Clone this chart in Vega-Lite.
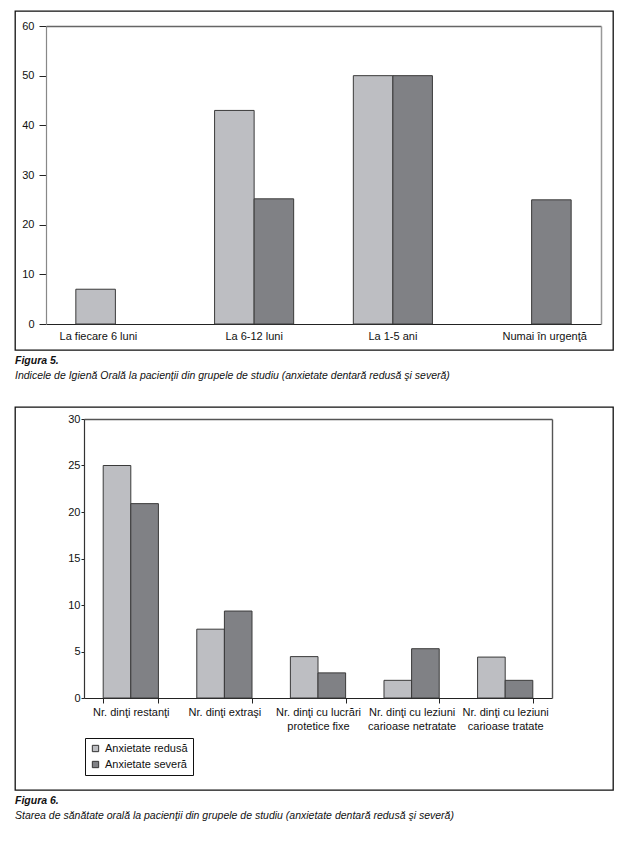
{
  "$schema": "https://vega.github.io/schema/vega-lite/v6.json",
  "padding": {"left": 14, "top": 10, "right": 5, "bottom": 5},
  "background": "white",
  "config": {
    "font": "Liberation Sans",
    "view": {"stroke": "#111", "strokeWidth": 1.3},
    "axis": {"grid": false, "title": null, "labelColor": "#111", "labelFontSize": 11, "labelFont": "Liberation Sans"},
    "title": {"orient": "bottom", "anchor": "start", "offset": 6, "fontSize": 10.5, "fontStyle": "italic", "fontWeight": "bold", "color": "#111", "subtitleFontSize": 10.5, "subtitleFontStyle": "italic", "subtitleColor": "#111", "subtitlePadding": 4, "font": "Liberation Sans", "subtitleFont": "Liberation Sans"}
  },
  "resolve": {"scale": {"x": "independent", "y": "independent", "xOffset": "independent", "color": "independent"}, "legend": {"color": "independent"}},
  "vconcat": [
    {
      "width": 598,
      "height": 339,
      "title": {"text": "Figura 5.", "subtitle": "Indicele de Igienă Orală la pacienţii din grupele de studiu (anxietate dentară redusă şi severă)"},
      "data": {"values": [
        {"cat": "La fiecare 6 luni", "grp": "Anxietate redusă", "v": 7},
        {"cat": "La 6-12 luni", "grp": "Anxietate redusă", "v": 43},
        {"cat": "La 6-12 luni", "grp": "Anxietate severă", "v": 25.2},
        {"cat": "La 1-5 ani", "grp": "Anxietate redusă", "v": 50},
        {"cat": "La 1-5 ani", "grp": "Anxietate severă", "v": 50},
        {"cat": "Numai în urgenţă", "grp": "Anxietate severă", "v": 25}
      ]},
      "layer": [
        {
          "mark": {"type": "bar", "stroke": "#3a3a3a", "strokeWidth": 1},
          "encoding": {
            "x": {"field": "cat", "type": "nominal", "sort": null,
              "scale": {"range": [31, 586], "paddingInner": 0.43, "paddingOuter": 0.215},
              "axis": {"orient": "bottom", "offset": -26, "ticks": false, "tickSize": 0, "labelPadding": 6, "labelAngle": 0, "domainColor": "#222", "domainWidth": 1.2,
                "labelOffset": {"condition": [{"test": "datum.label == 'La fiecare 6 luni'", "value": -17}, {"test": "datum.label == 'Numai în urgenţă'", "value": 13}], "value": 0}}},
            "xOffset": {"field": "grp", "type": "nominal", "scale": {"domain": ["Anxietate redusă", "Anxietate severă"], "paddingInner": 0}},
            "y": {"field": "v", "type": "quantitative",
              "scale": {"domain": [0, 60], "range": [313, 15], "nice": false},
              "axis": {"orient": "left", "offset": -31, "values": [0, 10, 20, 30, 40, 50, 60], "tickSize": 7, "tickColor": "#222", "labelPadding": 5, "domainColor": "#888", "domainWidth": 1.2}},
            "color": {"field": "grp", "type": "nominal", "scale": {"domain": ["Anxietate redusă", "Anxietate severă"], "range": ["#bdbec2", "#808185"]}, "legend": null}
          }
        },
        {
          "mark": {"type": "point", "opacity": 0},
          "encoding": {
            "x": {"field": "cat", "type": "nominal", "sort": null, "axis": {"orient": "top", "offset": -15, "labels": false, "ticks": false, "domainColor": "#666", "domainWidth": 1.5}},
            "y": {"field": "v", "type": "quantitative", "axis": {"orient": "right", "offset": -12, "labels": false, "ticks": false, "domainColor": "#999", "domainWidth": 1.5}}
          }
        }
      ],
      "resolve": {"axis": {"x": "independent", "y": "independent"}}
    },
    {
      "width": 598,
      "height": 383,
      "title": {"text": "Figura 6.", "subtitle": "Starea de sănătate orală la pacienţii din grupele de studiu (anxietate dentară redusă şi severă)"},
      "data": {"values": [
        {"cat": "Nr. dinţi restanţi", "grp": "Anxietate redusă", "v": 25},
        {"cat": "Nr. dinţi restanţi", "grp": "Anxietate severă", "v": 20.9},
        {"cat": "Nr. dinţi extraşi", "grp": "Anxietate redusă", "v": 7.4},
        {"cat": "Nr. dinţi extraşi", "grp": "Anxietate severă", "v": 9.35},
        {"cat": "Nr. dinţi cu lucrări protetice fixe", "grp": "Anxietate redusă", "v": 4.45},
        {"cat": "Nr. dinţi cu lucrări protetice fixe", "grp": "Anxietate severă", "v": 2.7},
        {"cat": "Nr. dinţi cu leziuni carioase netratate", "grp": "Anxietate redusă", "v": 1.9},
        {"cat": "Nr. dinţi cu leziuni carioase netratate", "grp": "Anxietate severă", "v": 5.3},
        {"cat": "Nr. dinţi cu leziuni carioase tratate", "grp": "Anxietate redusă", "v": 4.4},
        {"cat": "Nr. dinţi cu leziuni carioase tratate", "grp": "Anxietate severă", "v": 1.9}
      ]},
      "layer": [
        {
          "mark": {"type": "bar", "stroke": "#3a3a3a", "strokeWidth": 1},
          "encoding": {
            "x": {"field": "cat", "type": "nominal", "sort": null,
              "scale": {"range": [69, 537], "paddingInner": 0.41, "paddingOuter": 0.205},
              "axis": {"orient": "bottom", "offset": -92, "tickBand": "extent", "tickSize": 5, "tickColor": "#222", "labelPadding": 3, "labelAngle": 0, "labelLineHeight": 14, "domainColor": "#222", "domainWidth": 1.2,
                "labelExpr": "split(replace(datum.label, regexp(' (protetice|carioase)'), '|$1'), '|')"}},
            "xOffset": {"field": "grp", "type": "nominal", "scale": {"domain": ["Anxietate redusă", "Anxietate severă"], "paddingInner": 0}},
            "y": {"field": "v", "type": "quantitative",
              "scale": {"domain": [0, 30], "range": [291, 12], "nice": false},
              "axis": {"orient": "left", "offset": -69, "values": [0, 5, 10, 15, 20, 25, 30], "tickSize": 3, "tickColor": "#222", "labelPadding": 1, "domainColor": "#333", "domainWidth": 1.2}},
            "color": {"field": "grp", "type": "nominal", "scale": {"domain": ["Anxietate redusă", "Anxietate severă"], "range": ["#bdbec2", "#808185"]},
              "legend": {"orient": "none", "legendX": 70, "legendY": 331, "title": null, "strokeColor": "#111", "fillColor": "white", "padding": 5, "symbolType": "square", "symbolSize": 40, "symbolStrokeColor": "#333", "symbolStrokeWidth": 1, "labelFontSize": 11, "labelColor": "#111", "rowPadding": 4, "labelFont": "Liberation Sans"}}
          }
        },
        {
          "mark": {"type": "point", "opacity": 0},
          "encoding": {
            "x": {"field": "cat", "type": "nominal", "sort": null, "axis": {"orient": "top", "offset": -12, "labels": false, "ticks": false, "domainColor": "#555", "domainWidth": 1.4}},
            "y": {"field": "v", "type": "quantitative", "axis": {"orient": "right", "offset": -61, "labels": false, "ticks": false, "domainColor": "#555", "domainWidth": 1.4}}
          }
        }
      ],
      "resolve": {"axis": {"x": "independent", "y": "independent"}}
    }
  ],
  "spacing": 24
}
